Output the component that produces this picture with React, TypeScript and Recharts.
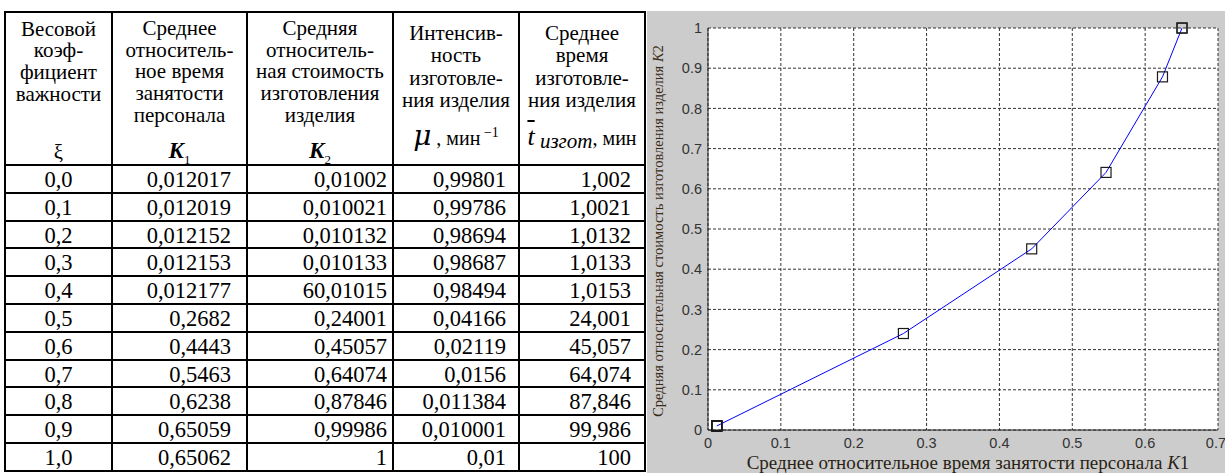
import { LineChart, Line, XAxis, YAxis, CartesianGrid, Label } from "recharts";

// table columns (as printed)
const xiLabels = ["0,0", "0,1", "0,2", "0,3", "0,4", "0,5", "0,6", "0,7", "0,8", "0,9", "1,0"];
const k1Labels = ["0,012017", "0,012019", "0,012152", "0,012153", "0,012177", "0,2682", "0,4443", "0,5463", "0,6238", "0,65059", "0,65062"];
const k2Labels = ["0,01002", "0,010021", "0,010132", "0,010133", "60,01015", "0,24001", "0,45057", "0,64074", "0,87846", "0,99986", "1"];
const muLabels = ["0,99801", "0,99786", "0,98694", "0,98687", "0,98494", "0,04166", "0,02119", "0,0156", "0,011384", "0,010001", "0,01"];
const tLabels = ["1,002", "1,0021", "1,0132", "1,0133", "1,0153", "24,001", "45,057", "64,074", "87,846", "99,986", "100"];

// plotted curve K2(K1)
const k1Values = [0.012017, 0.012019, 0.012152, 0.012153, 0.012177, 0.2682, 0.4443, 0.5463, 0.6238, 0.65059, 0.65062];
const k2Values = [0.01002, 0.010021, 0.010132, 0.010133, 0.01015, 0.24001, 0.45057, 0.64074, 0.87846, 0.99986, 1];

const xTicks = [0, 0.1, 0.2, 0.3, 0.4, 0.5, 0.6, 0.7];
const yTicks = [0, 0.1, 0.2, 0.3, 0.4, 0.5, 0.6, 0.7, 0.8, 0.9, 1];

const headerLines = [
  ["Весовой", "коэф-", "фициент", "важности"],
  ["Среднее", "относитель-", "ное время", "занятости", "персонала"],
  ["Средняя", "относитель-", "ная стоимость", "изготовления", "изделия"],
  ["Интенсив-", "ность", "изготовле-", "ния изделия"],
  ["Среднее", "время", "изготовле-", "ния изделия"],
];

const colX = [5, 112, 247, 393, 519, 645];
const headTop = 12;
const headBottom = 165;
const rowH = 27.8;
const serif = "'Liberation Serif', 'Times New Roman', serif";

const chartData = k1Values.map((k1, i) => ({ k1, k2: k2Values[i] }));

const Table = () => {
  const columns = [xiLabels, k1Labels, k2Labels, muLabels, tLabels];
  const padRight = [0, 16, 6, 13, 14];
  const headStart = [28.5, 28, 28, 33, 33];
  const headStep = [21.8, 21.7, 21.7, 22.3, 22.3];
  const bottom = headBottom + rowH * xiLabels.length;
  const cell = (i: number, y: number, h: number) => ({
    position: "absolute" as const,
    left: colX[i],
    width: colX[i + 1] - colX[i],
    top: y - h / 2,
    height: h,
    lineHeight: `${h}px`,
    textAlign: "center" as const,
    whiteSpace: "nowrap" as const,
  });

  return (
    <div style={{ position: "absolute", left: 0, top: 0, width: 648, height: 473, fontFamily: serif, color: "#000" }}>
      {colX.map((x) => (
        <div key={`v${x}`} style={{ position: "absolute", left: x - 1, top: headTop - 1, width: 2, height: bottom - headTop + 2, background: "#000" }} />
      ))}
      {[headTop, headBottom, ...xiLabels.map((_, i) => headBottom + rowH * (i + 1))].map((y, i) => (
        <div key={`h${i}`} style={{ position: "absolute", left: colX[0] - 1, top: y - 1, width: colX[5] - colX[0] + 2, height: 2, background: "#000" }} />
      ))}

      {headerLines.map((lines, c) =>
        lines.map((t, j) => (
          <div key={`hd${c}-${j}`} style={{ ...cell(c, headStart[c] + headStep[c] * j, 20), fontSize: 21 }}>
            {t}
          </div>
        ))
      )}
      <div style={{ ...cell(0, 152, 22), fontSize: 21 }}>ξ</div>
      <div style={{ ...cell(1, 151, 24), fontSize: 23, fontStyle: "italic", fontWeight: 700 }}>
        K<sub style={{ fontSize: 13, fontStyle: "normal", fontWeight: 400 }}>1</sub>
      </div>
      <div style={{ ...cell(2, 151, 24), fontSize: 23, fontStyle: "italic", fontWeight: 700 }}>
        K<sub style={{ fontSize: 13, fontStyle: "normal", fontWeight: 400 }}>2</sub>
      </div>
      <div style={{ ...cell(3, 133, 26), fontSize: 20 }}>
        <span style={{ fontSize: 28, fontStyle: "italic", fontFamily: "'DejaVu Serif', serif" }}>μ</span> , мин
        <sup style={{ fontSize: 14 }}> −1</sup>
      </div>
      <div style={{ ...cell(4, 137, 26), fontSize: 20 }}>
        <span style={{ fontSize: 26, fontStyle: "italic", textDecoration: "overline" }}>t</span>
        <span style={{ fontSize: 21, fontStyle: "italic", position: "relative", top: 3 }}> изгот</span>, мин
      </div>

      {columns.map((col, c) =>
        col.map((t, r) => (
          <div
            key={`c${c}-${r}`}
            style={{
              ...cell(c, headBottom + rowH * r + rowH / 2 + 1, 24),
              fontSize: 22.5,
              textAlign: c === 0 ? "center" : "right",
              paddingRight: padRight[c],
              boxSizing: "border-box",
            }}
          >
            {t}
          </div>
        ))
      )}
    </div>
  );
};

const Square = (p: any) => {
  if (p.cx == null || p.cy == null) return null;
  return <rect key={`sq${p.index}`} x={p.cx - 5} y={p.cy - 5} width={10} height={10} fill="none" stroke="#1a1a1a" strokeWidth={1.2} />;
};

const Chart = () => (
  <div style={{ position: "absolute", left: 647, top: 11, width: 578, height: 462, background: "#cccccc" }}>
    <LineChart width={578} height={462} data={chartData} margin={{ top: 17, right: 7, left: 1, bottom: 0 }}>
      <CartesianGrid strokeDasharray="3 2" stroke="#333" fill="#fff" fillOpacity={1} />
      <XAxis
        dataKey="k1"
        type="number"
        domain={[0, 0.7]}
        ticks={xTicks}
        height={43}
        tickLine={false}
        axisLine={{ stroke: "#222" }}
        tick={{ fontFamily: "'Liberation Sans', Arial, sans-serif", fontSize: 14.5, fill: "#333" }}
      >
        <Label
          content={() => (
            <text x={321} y={458} textAnchor="middle" fontFamily={serif} fontSize={19} fill="#2a1f14">
              Среднее относительное время занятости персонала{"  "}
              <tspan fontStyle="italic">K</tspan>1
            </text>
          )}
        />
      </XAxis>
      <YAxis
        type="number"
        domain={[0, 1]}
        ticks={yTicks}
        width={60}
        tickLine={false}
        tickMargin={0}
        axisLine={{ stroke: "#222" }}
        tick={{ fontFamily: "'Liberation Sans', Arial, sans-serif", fontSize: 14.5, fill: "#333" }}
      >
        <Label
          content={() => (
            <text
              x={11}
              y={220}
              transform="rotate(-90 11 220)"
              textAnchor="middle"
              dominantBaseline="central"
              fontFamily={serif}
              fontSize={14.5}
              fill="#3a2a14"
            >
              Средняя относительная стоимость изготовления изделия <tspan fontStyle="italic">K</tspan>2
            </text>
          )}
        />
      </YAxis>
      <Line type="linear" dataKey="k2" stroke="#0000ff" strokeWidth={1} dot={Square} activeDot={false} isAnimationActive={false} />
    </LineChart>
  </div>
);

export default function App() {
  return (
    <div style={{ position: "absolute", left: 0, top: 0, width: 1225, height: 473, background: "#fff", overflow: "hidden" }}>
      <Table />
      <Chart />
    </div>
  );
}
